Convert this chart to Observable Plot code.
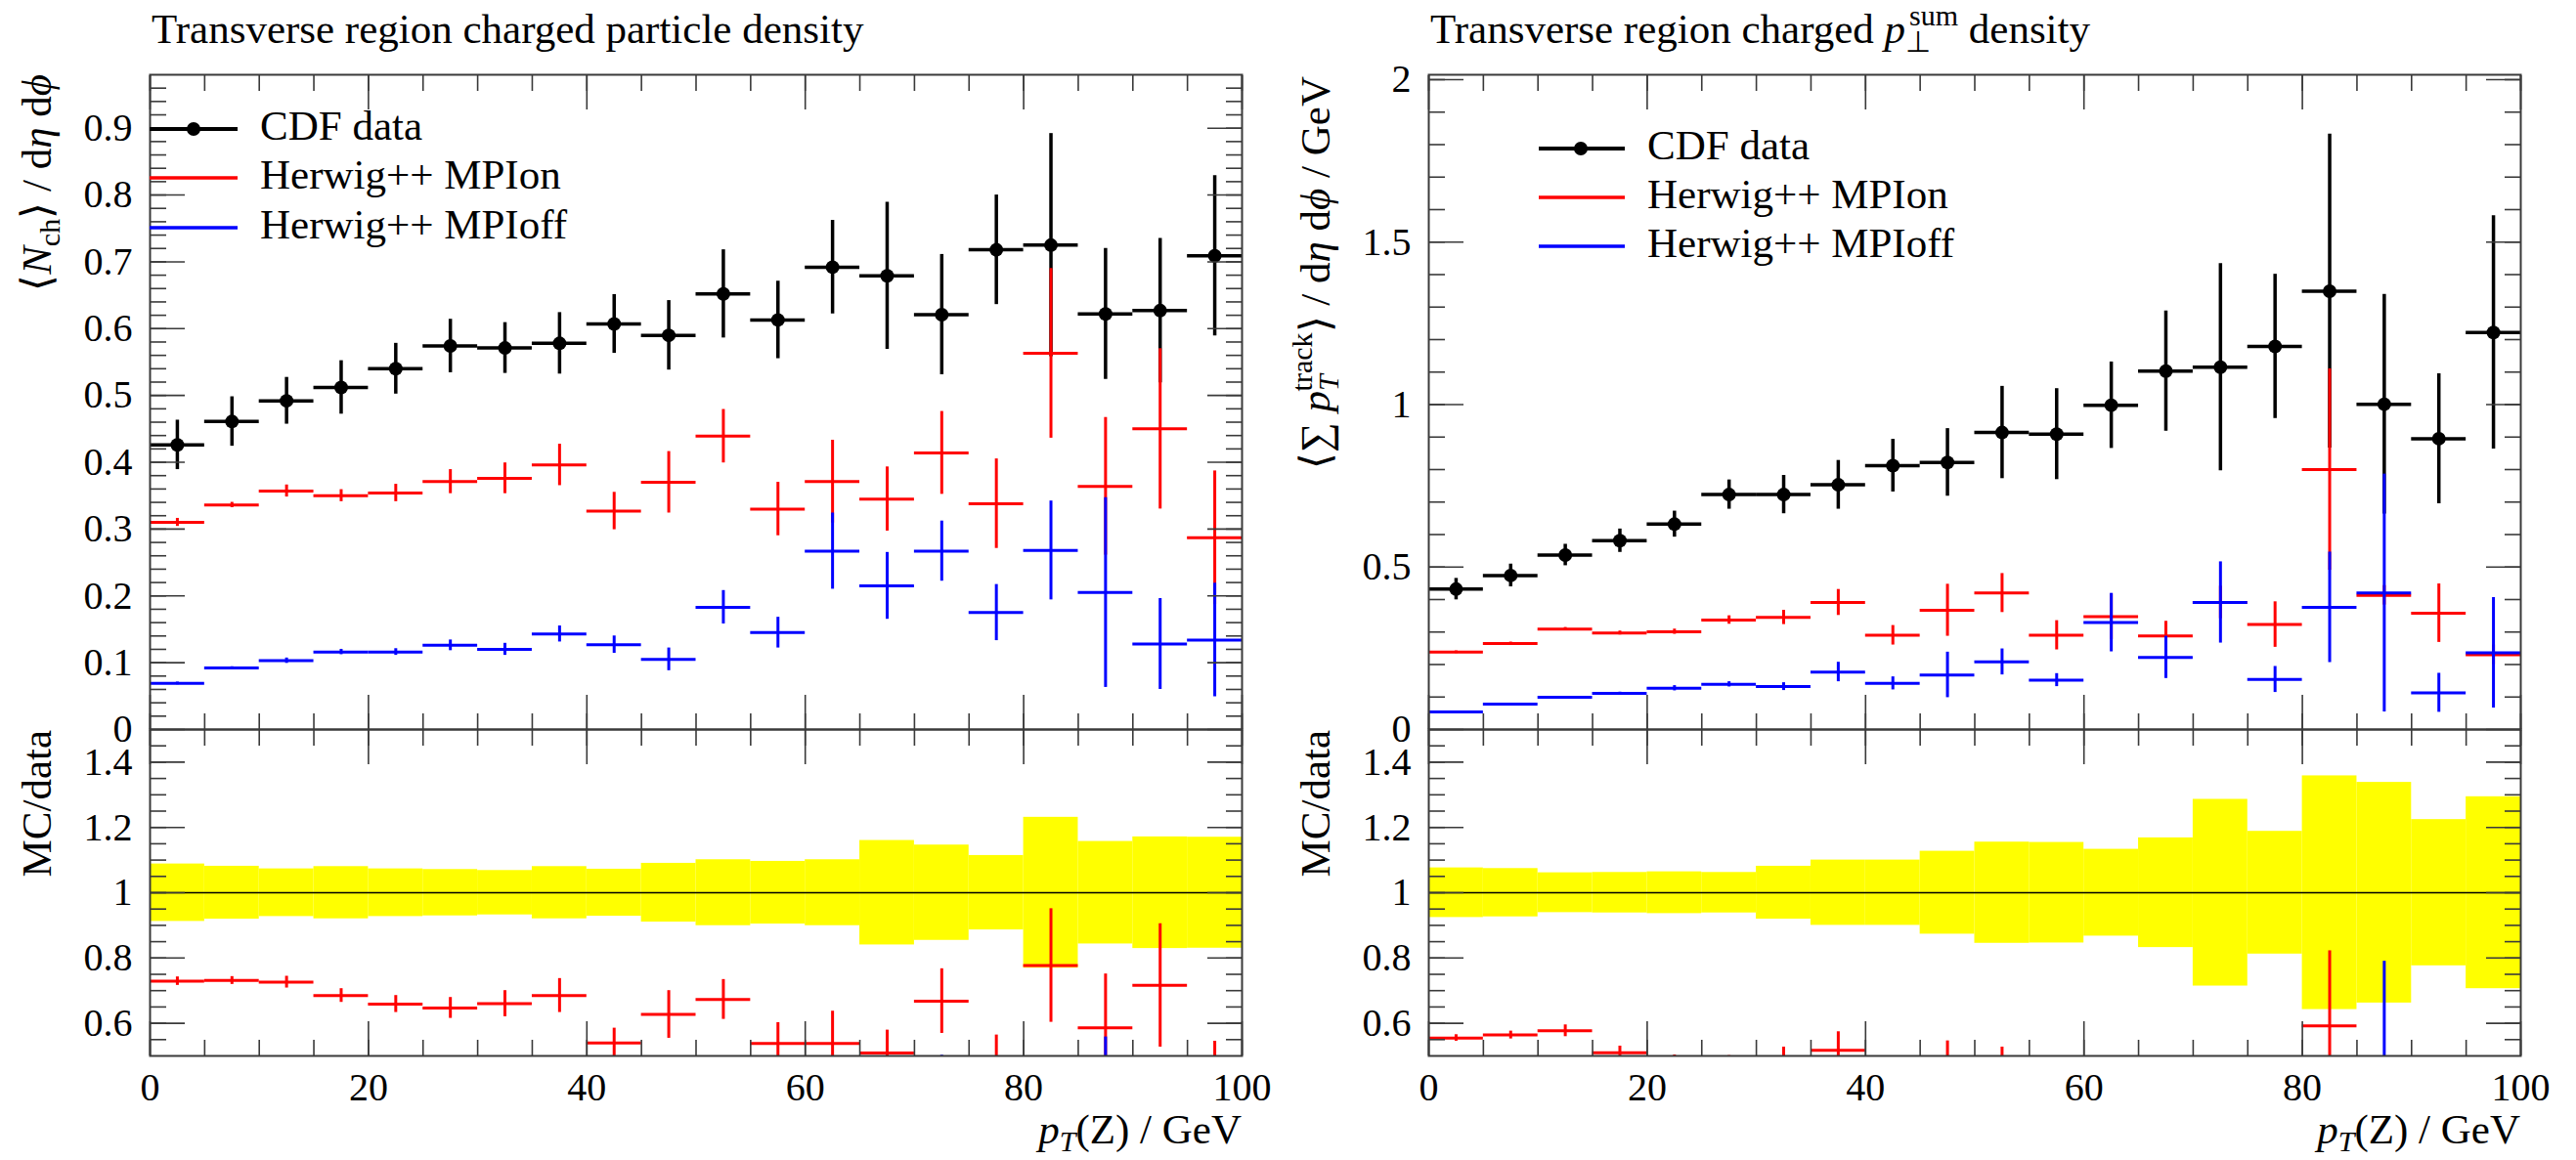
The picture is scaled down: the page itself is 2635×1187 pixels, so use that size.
<!DOCTYPE html>
<html><head><meta charset="utf-8">
<script src="https://cdn.jsdelivr.net/npm/d3@7"></script>
<script src="https://cdn.jsdelivr.net/npm/@observablehq/plot@0.6"></script>
<style>
body{margin:0;background:#fff;}
#root{position:relative;width:2635px;height:1187px;overflow:hidden;font-family:"Liberation Serif",serif;}
</style></head><body><div id="root"></div>
<script>
// ---------- data ----------
const binLow  = [0,5,10,15,20,25,30,35,40,45,50,55,60,65,70,75,80,85,90,95];
const binHigh = [5,10,15,20,25,30,35,40,45,50,55,60,65,70,75,80,85,90,95,100];

// left: transverse charged particle density
const leftCDF      = [0.426,0.461,0.492,0.512,0.540,0.574,0.571,0.578,0.607,0.590,0.652,0.613,0.692,0.679,0.621,0.718,0.725,0.622,0.627,0.709];
const leftCDFErr   = [0.037,0.037,0.035,0.040,0.038,0.040,0.038,0.046,0.044,0.052,0.066,0.058,0.070,0.110,0.090,0.082,0.167,0.098,0.108,0.120];
const leftOn       = [0.310,0.336,0.357,0.350,0.354,0.371,0.376,0.396,0.327,0.370,0.439,0.330,0.371,0.345,0.414,0.338,0.563,0.364,0.450,0.287];
const leftOnErr    = [0.006,0.004,0.009,0.009,0.013,0.018,0.023,0.031,0.028,0.046,0.040,0.040,0.062,0.048,0.062,0.067,0.127,0.103,0.120,0.100];
const leftOff      = [0.069,0.092,0.103,0.116,0.116,0.126,0.120,0.143,0.127,0.105,0.183,0.145,0.267,0.215,0.267,0.175,0.268,0.205,0.128,0.134];
const leftOffErr   = [0.002,0.002,0.004,0.004,0.005,0.008,0.009,0.012,0.013,0.017,0.025,0.023,0.057,0.050,0.045,0.042,0.074,0.142,0.068,0.085];
const leftBand     = [0.088,0.081,0.073,0.080,0.073,0.071,0.068,0.080,0.072,0.090,0.101,0.096,0.101,0.160,0.146,0.114,0.231,0.157,0.171,0.170];
const leftOnRatio     = [0.729,0.731,0.726,0.685,0.659,0.647,0.660,0.685,0.540,0.627,0.673,0.538,0.538,0.509,0.668,0.470,0.777,0.586,0.716,0.400];
const leftOnRatioErr  = [0.013,0.012,0.018,0.021,0.026,0.032,0.040,0.052,0.045,0.073,0.061,0.064,0.099,0.070,0.099,0.094,0.174,0.165,0.189,0.145];
const leftOffRatio    = [0.162,0.200,0.209,0.227,0.215,0.220,0.210,0.247,0.209,0.178,0.281,0.237,0.386,0.317,0.430,0.244,0.370,0.330,0.204,0.190];
const leftOffRatioErr = [0.005,0.005,0.008,0.008,0.010,0.014,0.016,0.021,0.021,0.029,0.038,0.038,0.082,0.074,0.072,0.060,0.102,0.228,0.108,0.120];

// right: transverse charged pT-sum density
const rightCDF     = [0.432,0.474,0.537,0.581,0.632,0.723,0.723,0.753,0.812,0.822,0.914,0.909,0.998,1.103,1.115,1.179,1.349,1.001,0.895,1.222];
const rightCDFErr  = [0.033,0.035,0.033,0.036,0.040,0.045,0.059,0.075,0.081,0.104,0.142,0.140,0.133,0.185,0.319,0.222,0.483,0.338,0.200,0.359];
const rightOn      = [0.238,0.265,0.309,0.297,0.301,0.337,0.345,0.391,0.290,0.367,0.420,0.290,0.347,0.288,0.391,0.323,0.800,0.413,0.358,0.230];
const rightOnErr   = [0.004,0.004,0.005,0.006,0.008,0.013,0.022,0.040,0.030,0.080,0.060,0.045,0.070,0.045,0.050,0.070,0.310,0.030,0.090,0.030];
const rightOff     = [0.054,0.078,0.099,0.111,0.127,0.139,0.132,0.177,0.142,0.168,0.208,0.152,0.329,0.222,0.391,0.154,0.376,0.420,0.113,0.236];
const rightOffErr  = [0.002,0.002,0.003,0.004,0.008,0.008,0.012,0.030,0.020,0.070,0.040,0.020,0.090,0.065,0.125,0.040,0.170,0.366,0.060,0.170];
const rightBand    = [0.076,0.074,0.061,0.062,0.064,0.062,0.081,0.100,0.100,0.127,0.155,0.154,0.133,0.168,0.286,0.188,0.358,0.338,0.224,0.294];
const rightOnRatio     = [0.555,0.564,0.577,0.510,0.476,0.466,0.477,0.517,0.357,0.446,0.460,0.320,0.350,0.260,0.345,0.274,0.592,0.410,0.400,0.190];
const rightOnRatioErr  = [0.010,0.012,0.018,0.020,0.027,0.035,0.050,0.057,0.040,0.100,0.067,0.050,0.070,0.040,0.050,0.060,0.230,0.040,0.090,0.030];
const rightOffRatio    = [0.125,0.165,0.184,0.191,0.200,0.192,0.183,0.235,0.175,0.204,0.228,0.167,0.330,0.200,0.350,0.130,0.280,0.420,0.126,0.190];
const rightOffRatioErr = [0.005,0.005,0.006,0.007,0.013,0.011,0.017,0.040,0.025,0.085,0.044,0.022,0.090,0.060,0.110,0.035,0.126,0.370,0.067,0.140];

// ticks
const xLabels      = [0,20,40,60,80,100];
const leftYLabels  = [0,0.1,0.2,0.3,0.4,0.5,0.6,0.7,0.8,0.9];
const rightYLabels = [0,0.5,1,1.5,2];
const ratioYLabels = [0.6,0.8,1,1.2,1.4];
const legendNames  = ["CDF data","Herwig++ MPIon","Herwig++ MPIoff"];

// ---------- layout ----------
const W = 2635, H = 1187;
const mainTop = 76, mainBot = 746, ratioBot = 1080;
const frames = {L:{x0:153,x1:1270}, R:{x0:1461,x1:2578}};
const FONT = "Liberation Serif";
const RED = "#ff0000", BLUE = "#0000ff", AXIS = "#3a3a3a";
const root = document.getElementById("root");

const rnd = v => Math.round(v*1000)/1000;
const minor = (a,b,s) => d3.range(Math.round((b-a)/s)+1).map(i => rnd(a+i*s));
const fmt = d => String(+(+d).toFixed(2));

function rows(vals, errs) {
  return binLow.map((lo,i) => ({lo, hi: binHigh[i], c: (lo+binHigh[i])/2, v: vals[i], e: errs[i]}));
}
function crosses(data, color, sw, dots) {
  const m = [
    Plot.ruleY(data, {y:"v", x1:"lo", x2:"hi", stroke:color, strokeWidth:sw, clip:true}),
    Plot.ruleX(data, {x:"c", y1:d=>d.v-d.e, y2:d=>d.v+d.e, stroke:color, strokeWidth:sw, clip:true})
  ];
  if (dots) m.push(Plot.dot(data, {x:"c", y:"v", r:7, fill:color, stroke:null, clip:true}));
  return m;
}
function tickMarks(xMajor, xMinor, yMajor, yMinor) {
  const s = {stroke:AXIS, strokeWidth:1.6, fill:"none", label:null};
  return [
    Plot.axisX({...s, ticks:xMinor, anchor:"bottom", tickSize:-16}),
    Plot.axisX({...s, ticks:xMajor, anchor:"bottom", tickSize:-35}),
    Plot.axisX({...s, ticks:xMinor, anchor:"top", tickSize:-16}),
    Plot.axisX({...s, ticks:xMajor, anchor:"top", tickSize:-35}),
    Plot.axisY({...s, ticks:yMinor, anchor:"left", tickSize:-17}),
    Plot.axisY({...s, ticks:yMajor, anchor:"left", tickSize:-36}),
    Plot.axisY({...s, ticks:yMinor, anchor:"right", tickSize:-17}),
    Plot.axisY({...s, ticks:yMajor, anchor:"right", tickSize:-36})
  ];
}
function yLabelAxis(ticks) {
  return Plot.axisY({ticks, anchor:"left", tickSize:0, tickPadding:18, tickFormat:fmt,
    fontSize:40, fontFamily:FONT, fill:"black", label:null});
}
function place(el) {
  el.style.position = "absolute"; el.style.left = "0px"; el.style.top = "0px";
  el.style.maxWidth = "none"; el.style.background = "transparent"; el.style.overflow = "visible";
  root.appendChild(el);
}

const xMinor = minor(0,100,5), xMajor = [0,20,40,60,80,100];

function mainPanel(f, ymax, yMajor, yMinor, cdf, on, off) {
  return Plot.plot({
    width: W, height: H,
    marginLeft: f.x0, marginRight: W - f.x1, marginTop: mainTop, marginBottom: H - mainBot,
    x: {domain: [0,100]}, y: {domain: [0, ymax]},
    style: {fontFamily: FONT},
    marks: [
      ...crosses(cdf, "black", 3.5, true),
      ...crosses(on, RED, 3),
      ...crosses(off, BLUE, 3),
      ...tickMarks(xMajor, xMinor, yMajor, yMinor),
      yLabelAxis(yMajor),
      Plot.frame({stroke:AXIS, strokeWidth:2})
    ]
  });
}
function ratioPanel(f, band, on, off) {
  const bandRows = binLow.map((lo,i) => ({lo, hi: binHigh[i], y1: 1 - band[i], y2: 1 + band[i]}));
  return Plot.plot({
    width: W, height: H,
    marginLeft: f.x0, marginRight: W - f.x1, marginTop: mainBot, marginBottom: H - ratioBot,
    x: {domain: [0,100]}, y: {domain: [0.5, 1.5]},
    style: {fontFamily: FONT},
    marks: [
      Plot.rect(bandRows, {x1:"lo", x2:"hi", y1:"y1", y2:"y2", fill:"#ffff00", clip:true}),
      Plot.ruleY([1], {stroke:"black", strokeWidth:1.5}),
      ...crosses(on, RED, 3),
      ...crosses(off, BLUE, 3),
      ...tickMarks(xMajor, xMinor, ratioYLabels, minor(0.55,1.45,0.05)),
      yLabelAxis(ratioYLabels),
      Plot.axisX({ticks: xLabels, anchor:"bottom", tickSize:0, tickPadding:17, tickFormat:fmt,
        fontSize:40, fontFamily:FONT, fill:"black", label:null}),
      Plot.frame({stroke:AXIS, strokeWidth:2})
    ]
  });
}

place(mainPanel(frames.L, 0.98, leftYLabels, minor(0.02,0.96,0.02),
  rows(leftCDF,leftCDFErr), rows(leftOn,leftOnErr), rows(leftOff,leftOffErr)));
place(ratioPanel(frames.L, leftBand, rows(leftOnRatio,leftOnRatioErr), rows(leftOffRatio,leftOffRatioErr)));
place(mainPanel(frames.R, 2.015, rightYLabels, minor(0.1,2.0,0.1),
  rows(rightCDF,rightCDFErr), rows(rightOn,rightOnErr), rows(rightOff,rightOffErr)));
place(ratioPanel(frames.R, rightBand, rows(rightOnRatio,rightOnRatioErr), rows(rightOffRatio,rightOffRatioErr)));

// ---------- texts & legends ----------
function legend(x0, x1, dotX, textX, ys) {
  const cols = ["black", RED, BLUE], sw = [4, 3.5, 3.5];
  let s = "";
  ys.forEach((y,i) => {
    s += `<line x1="${x0}" x2="${x1}" y1="${y}" y2="${y}" stroke="${cols[i]}" stroke-width="${sw[i]}"/>`;
    if (i === 0) s += `<circle cx="${dotX}" cy="${y}" r="7" fill="black"/>`;
    s += `<text x="${textX}" y="${y+11}" font-size="43">${legendNames[i]}</text>`;
  });
  return s;
}
const ov = document.createElementNS("http://www.w3.org/2000/svg","svg");
ov.setAttribute("width", W); ov.setAttribute("height", H);
ov.style.cssText = "position:absolute;left:0;top:0;overflow:visible";
ov.setAttribute("font-family", FONT);
const I = s => `<tspan font-style="italic">${s}</tspan>`;
ov.innerHTML = `
<text x="155" y="44" font-size="43">Transverse region charged particle density</text>
<text x="1463" y="44" font-size="43">Transverse region charged ${I("p")}<tspan font-size="30" dy="9">⊥</tspan><tspan font-size="30" dx="-22" dy="-27">sum</tspan><tspan dy="18"> density</tspan></text>
<text transform="translate(52,76) rotate(-90)" text-anchor="end" font-size="43">⟨${I("N")}<tspan font-size="30" dy="9">ch</tspan><tspan dy="-9">⟩ / d</tspan>${I("η")} d${I("ϕ")}</text>
<text transform="translate(52,747) rotate(-90)" text-anchor="end" font-size="43">MC/data</text>
<text transform="translate(1360,78) rotate(-90)" text-anchor="end" font-size="43">⟨∑ ${I("p")}<tspan font-size="30" font-style="italic" dy="9">T</tspan><tspan font-size="30" dx="-17" dy="-27">track</tspan><tspan dy="18">⟩ / d</tspan>${I("η")} d${I("ϕ")} / GeV</text>
<text transform="translate(1360,747) rotate(-90)" text-anchor="end" font-size="43">MC/data</text>
<text x="1270" y="1170" text-anchor="end" font-size="43">${I("p")}<tspan font-size="30" font-style="italic" dy="8">T</tspan><tspan dy="-8">(Z) / GeV</tspan></text>
<text x="2578" y="1170" text-anchor="end" font-size="43">${I("p")}<tspan font-size="30" font-style="italic" dy="8">T</tspan><tspan dy="-8">(Z) / GeV</tspan></text>
${legend(153, 243, 198, 266, [132, 182, 233])}
${legend(1574, 1662, 1617, 1685, [152, 202, 252])}
`;
root.appendChild(ov);
</script>
</body></html>
